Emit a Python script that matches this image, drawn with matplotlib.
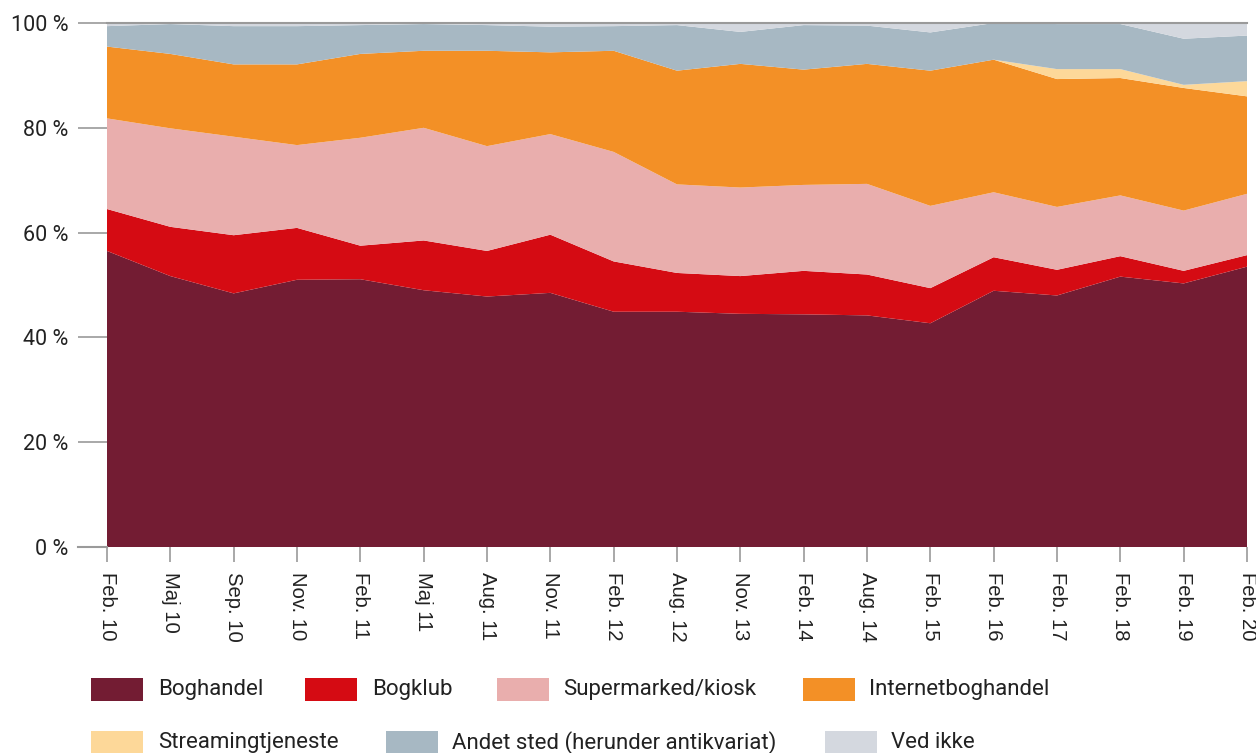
import matplotlib
matplotlib.use("Agg")
import matplotlib.pyplot as plt
from matplotlib.patches import Rectangle

periods = ["Feb. 10", "Maj 10", "Sep. 10", "Nov. 10", "Feb. 11", "Maj 11", "Aug. 11",
           "Nov. 11", "Feb. 12", "Aug. 12", "Nov. 13", "Feb. 14", "Aug. 14", "Feb. 15",
           "Feb. 16", "Feb. 17", "Feb. 18", "Feb. 19", "Feb. 20"]

boghandel = [56.5, 51.7, 48.4, 51.0, 51.1, 49.0, 47.8, 48.5, 44.9, 44.9, 44.5, 44.4, 44.2, 42.7, 48.9, 48.0, 51.6, 50.3, 53.5]
bogklub = [8.0, 9.4, 11.1, 9.9, 6.4, 9.5, 8.7, 11.1, 9.6, 7.4, 7.2, 8.3, 7.8, 6.7, 6.4, 4.9, 3.9, 2.4, 2.2]
supermarked = [17.3, 18.8, 18.8, 15.8, 20.6, 21.5, 20.0, 19.2, 20.9, 16.9, 16.9, 16.4, 17.3, 15.7, 12.4, 12.0, 11.6, 11.5, 11.7]
internet = [13.7, 14.2, 13.8, 15.4, 16.0, 14.7, 18.2, 15.6, 19.3, 21.7, 23.6, 22.0, 22.9, 25.8, 25.3, 24.4, 22.4, 23.4, 18.6]
streaming = [0, 0, 0, 0, 0, 0, 0, 0, 0, 0, 0, 0, 0, 0, 0, 1.9, 1.7, 0.6, 2.9]
andet = [3.9, 5.7, 7.3, 7.3, 5.5, 5.1, 4.9, 4.9, 4.7, 8.7, 6.1, 8.5, 7.3, 7.3, 7.0, 8.6, 8.6, 8.8, 8.7]
ved_ikke = [0.6, 0.2, 0.6, 0.6, 0.4, 0.2, 0.4, 0.7, 0.6, 0.4, 1.7, 0.4, 0.5, 1.8, 0.0, 0.2, 0.2, 3.0, 2.4]

labels = ["Boghandel", "Bogklub", "Supermarked/kiosk", "Internetboghandel",
          "Streamingtjeneste", "Andet sted (herunder antikvariat)", "Ved ikke"]
colors = ["#731C33", "#D50B13", "#E9AEAD", "#F39026", "#FDD899", "#A7B8C3", "#D4D8DF"]

yticks = [0, 20, 40, 60, 80, 100]
ytick_labels = ["0 %", "20 %", "40 %", "60 %", "80 %", "100 %"]

W, H = 1256, 753
fig = plt.figure(figsize=(W / 100, H / 100), dpi=100)
ax = fig.add_axes([107 / W, 1 - 547 / H, (1247 - 107) / W, (547 - 23) / H])

x = list(range(len(periods)))
ax.stackplot(x, boghandel, bogklub, supermarked, internet, streaming, andet, ved_ikke,
             colors=colors, labels=labels, linewidth=0)
ax.set_xlim(0, len(periods) - 1)
ax.set_ylim(0, 100)

for s in ["left", "right", "bottom", "top"]:
    ax.spines[s].set_visible(False)
ax.axhline(100, color="#9a9a9a", lw=1.5, zorder=5, clip_on=False)
ax.plot([-29 / 63.33, 0], [0, 0], color="#9a9a9a", lw=1.5, clip_on=False)

ax.set_yticks(yticks)
ax.set_yticklabels(ytick_labels, family=["Roboto", "DejaVu Sans"], fontsize=15.5, color="#222222")
ax.tick_params(axis="y", length=21, width=1.2, color="#9a9a9a", pad=7)
ax.set_xticks(x)
ax.set_xticklabels(periods, rotation=270, family=["Liberation Sans", "DejaVu Sans"],
                   fontsize=14.6, color="#222222", ha="center", va="top")
ax.tick_params(axis="x", length=11, width=1.2, color="#9a9a9a", pad=7)

# legend (manual two-row layout)
row1 = [(91, 158), (305, 372), (497, 563), (803, 869)]
row2 = [(91, 158), (386, 452), (825, 891)]
entries = [(r, 678) for r in row1] + [(r, 731) for r in row2]
for i, ((px, tx_), ytop) in enumerate(entries):
    fig.add_artist(Rectangle((px / W, 1 - (ytop + 23) / H), 52 / W, 23 / H,
                             transform=fig.transFigure, facecolor=colors[i], edgecolor="none"))
    fig.text(tx_ / W, 1 - (ytop + 11.5) / H, labels[i], family=["Roboto", "DejaVu Sans"],
             fontsize=16, color="#222222", ha="left", va="center")

fig.savefig("out.png", dpi=100, facecolor="white")
